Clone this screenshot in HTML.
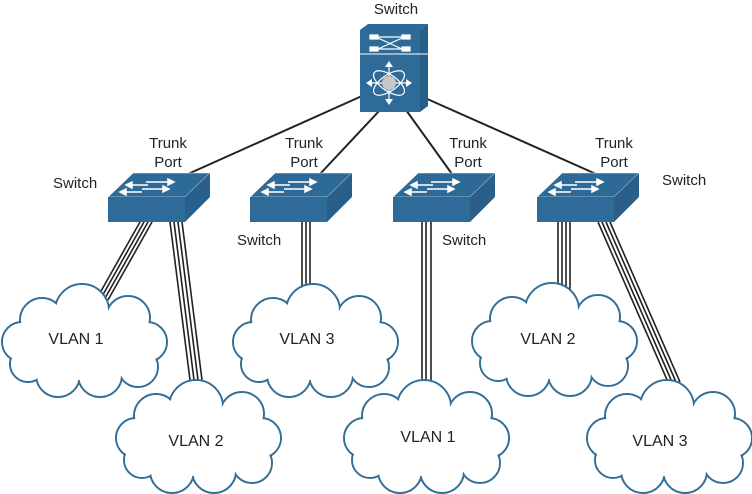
<!DOCTYPE html>
<html><head><meta charset="utf-8"><style>
html,body{margin:0;padding:0;background:#fff;}
svg{display:block;}
text{font-family:"Liberation Sans",sans-serif;font-size:15px;fill:#222;}
</style></head><body>
<svg width="752" height="494" viewBox="0 0 752 494" xmlns="http://www.w3.org/2000/svg">
<defs>
<g id="cloud">
 <g fill="none" stroke="#336e96" stroke-width="2">
  <circle cx="22" cy="60" r="20"/><circle cx="42" cy="38" r="22"/><circle cx="82" cy="29" r="27"/>
  <circle cx="128" cy="36" r="22"/><circle cx="147" cy="60" r="20"/><circle cx="138" cy="85" r="20"/>
  <circle cx="100" cy="93" r="22"/><circle cx="58" cy="93" r="22"/><circle cx="28" cy="82" r="18"/>
 </g>
 <g fill="#fff">
  <circle cx="22" cy="60" r="19"/><circle cx="42" cy="38" r="21"/><circle cx="82" cy="29" r="26"/>
  <circle cx="128" cy="36" r="21"/><circle cx="147" cy="60" r="19"/><circle cx="138" cy="85" r="19"/>
  <circle cx="100" cy="93" r="21"/><circle cx="58" cy="93" r="21"/><circle cx="28" cy="82" r="17"/>
  <ellipse cx="84" cy="62" rx="64" ry="36"/>
 </g>
</g>
<g id="sw">
 <polygon points="0,24 25,0 102,0 77,24" fill="#2e6a97" stroke="#fff" stroke-width="0.6"/>
 <rect x="0" y="24" width="77" height="25" fill="#2f6b98"/>
 <polygon points="77,24 102,0 102,24 77,49" fill="#295f88"/>
 <g stroke="#fff" stroke-width="1.5" fill="#fff">
  <line x1="38" y1="9" x2="60" y2="9"/><polygon points="60,6 66,9 60,12"/>
  <line x1="22" y1="12" x2="40" y2="12"/><polygon points="24,9 18,12 24,15"/>
  <line x1="34" y1="16" x2="55" y2="16"/><polygon points="55,13 61,16 55,19"/>
  <line x1="16" y1="19" x2="34" y2="19"/><polygon points="18,16 12,19 18,22"/>
 </g>
</g>
</defs>

<g stroke="#222" stroke-width="2">
 <line x1="362" y1="96" x2="188" y2="174"/>
 <line x1="380" y1="110" x2="320" y2="174"/>
 <line x1="406" y1="110" x2="452" y2="174"/>
 <line x1="425" y1="98" x2="596" y2="174"/>
</g>

<g stroke="#222" stroke-width="1.6">
 <line x1="140" y1="222" x2="96" y2="300"/><line x1="144" y1="222" x2="100" y2="300"/><line x1="148" y1="222" x2="104" y2="300"/><line x1="152" y1="222" x2="108" y2="300"/>
 <line x1="170" y1="222" x2="190" y2="380"/><line x1="174" y1="222" x2="194" y2="380"/><line x1="178" y1="222" x2="198" y2="380"/><line x1="182" y1="222" x2="202" y2="380"/>
 <line x1="302" y1="222" x2="302" y2="290"/><line x1="306" y1="222" x2="306" y2="290"/><line x1="310" y1="222" x2="310" y2="290"/>
 <line x1="422" y1="222" x2="422" y2="385"/><line x1="426" y1="222" x2="426" y2="385"/><line x1="431" y1="222" x2="431" y2="385"/>
 <line x1="558" y1="222" x2="558" y2="290"/><line x1="562" y1="222" x2="562" y2="290"/><line x1="566" y1="222" x2="566" y2="290"/><line x1="570" y1="222" x2="570" y2="290"/>
 <line x1="598" y1="222" x2="668" y2="382"/><line x1="602" y1="222" x2="672" y2="382"/><line x1="606" y1="222" x2="676" y2="382"/><line x1="610" y1="222" x2="680" y2="382"/>
</g>

<use href="#cloud" x="0" y="282"/>
<use href="#cloud" x="114" y="378"/>
<use href="#cloud" x="231" y="282"/>
<use href="#cloud" x="342" y="378"/>
<use href="#cloud" x="470" y="281"/>
<use href="#cloud" x="585" y="378"/>
<g text-anchor="middle" style="font-size:16px">
 <text x="76" y="344" style="font-size:16px">VLAN 1</text>
 <text x="196" y="446" style="font-size:16px">VLAN 2</text>
 <text x="307" y="344" style="font-size:16px">VLAN 3</text>
 <text x="428" y="442" style="font-size:16px">VLAN 1</text>
 <text x="548" y="344" style="font-size:16px">VLAN 2</text>
 <text x="660" y="446" style="font-size:16px">VLAN 3</text>
</g>

<use href="#sw" x="108" y="173"/>
<use href="#sw" x="250" y="173"/>
<use href="#sw" x="393" y="173"/>
<use href="#sw" x="537" y="173"/>

<polygon points="360,30 368,24 428,24 420,30" fill="#2e6a97"/>
<polygon points="420,30 428,24 428,106 420,112" fill="#275e87"/>
<rect x="360" y="30" width="60" height="82" fill="#2f6b98"/>
<line x1="360" y1="54" x2="428" y2="54" stroke="#fff" stroke-width="1"/>
<g stroke="#fff" stroke-width="1.2" fill="#fff">
 <rect x="370" y="35" width="8" height="4"/><rect x="402" y="35" width="8" height="4"/>
 <rect x="370" y="47" width="8" height="4"/><rect x="402" y="47" width="8" height="4"/>
 <line x1="378" y1="37" x2="402" y2="37"/><line x1="378" y1="49" x2="402" y2="49"/>
 <line x1="378" y1="38" x2="402" y2="49"/><line x1="378" y1="49" x2="402" y2="38"/>
</g>
<g stroke="#fff" stroke-width="1.2" fill="none">
 <ellipse cx="389" cy="83" rx="18" ry="8" transform="rotate(35 389 83)"/>
 <ellipse cx="389" cy="83" rx="18" ry="8" transform="rotate(-35 389 83)"/>
 <line x1="389" y1="64" x2="389" y2="102"/><line x1="368" y1="83" x2="410" y2="83"/>
</g>
<g fill="#fff">
 <polygon points="389,61 385,67 393,67"/><polygon points="389,105 385,99 393,99"/>
 <polygon points="366,83 372,79 372,87"/><polygon points="412,83 406,79 406,87"/>
</g>
<circle cx="389" cy="83" r="7" fill="#c8c8c8"/>

<text x="396" y="14" text-anchor="middle">Switch</text>
<g text-anchor="middle">
 <text x="168" y="148">Trunk</text><text x="168" y="167">Port</text>
 <text x="304" y="148">Trunk</text><text x="304" y="167">Port</text>
 <text x="468" y="148">Trunk</text><text x="468" y="167">Port</text>
 <text x="614" y="148">Trunk</text><text x="614" y="167">Port</text>
</g>
<text x="53" y="188">Switch</text>
<text x="237" y="245">Switch</text>
<text x="442" y="245">Switch</text>
<text x="662" y="185">Switch</text>
</svg>
</body></html>
